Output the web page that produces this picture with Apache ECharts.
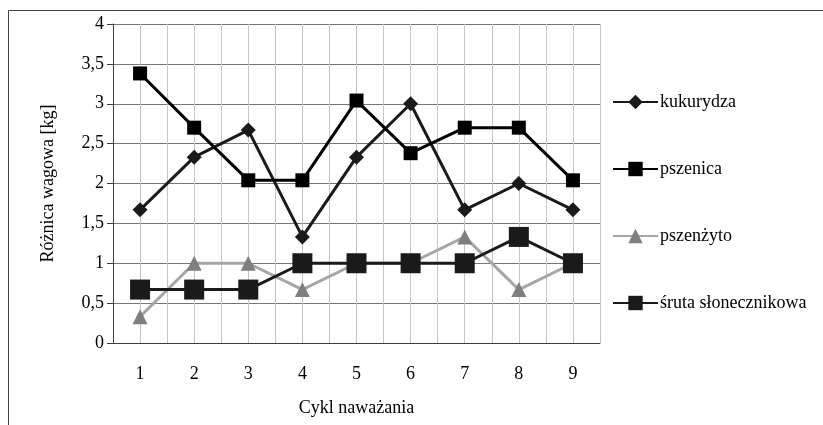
<!DOCTYPE html>
<html>
<head>
<meta charset="utf-8">
<script src="https://cdn.jsdelivr.net/npm/echarts@6/dist/echarts.min.js"></script>
<style>
html, body { margin: 0; padding: 0; background: #fff; }
#chart { width: 823px; height: 425px; }
</style>
</head>
<body>
<div id="chart"></div>
<script>
var cycles = ['1', '2', '3', '4', '5', '6', '7', '8', '9'];
var kukurydza = [1.67, 2.33, 2.67, 1.33, 2.33, 3.0, 1.67, 2.0, 1.67];
var pszenica = [3.38, 2.7, 2.04, 2.04, 3.04, 2.38, 2.7, 2.7, 2.04];
var pszenzyto = [0.33, 1.0, 1.0, 0.67, 1.0, 1.0, 1.33, 0.67, 1.0];
var sruta = [0.67, 0.67, 0.67, 1.0, 1.0, 1.0, 1.0, 1.33, 1.0];

var serif = 'Liberation Serif';
var chart = echarts.init(document.getElementById('chart'));

var option = {
    animation: false,
    graphic: [
        {
            type: 'rect',
            shape: { x: 8.5, y: 10.5, width: 900, height: 500 },
            style: { fill: 'none', stroke: '#404040', lineWidth: 1 },
            silent: true
        }
    ],
    grid: { left: 113, top: 24, right: 223, bottom: 82 },
    legend: {
        orient: 'vertical',
        left: 612,
        top: 93,
        padding: 0,
        itemWidth: 45,
        itemHeight: 18,
        itemGap: 49,
        textStyle: { fontFamily: serif, fontSize: 18, color: '#000', padding: [0, 0, 0, -3] },
        data: ['kukurydza', 'pszenica', 'pszenżyto', 'śruta słonecznikowa']
    },
    xAxis: [
        {
            type: 'category',
            data: cycles,
            boundaryGap: true,
            name: 'Cykl naważania',
            nameLocation: 'middle',
            nameGap: 56,
            nameTextStyle: { fontFamily: serif, fontSize: 18, color: '#000' },
            axisLine: { lineStyle: { color: '#404040', width: 1 } },
            axisTick: { show: false },
            axisLabel: { fontFamily: serif, fontSize: 18, color: '#000', margin: 22 },
            splitLine: { show: false }
        },
        {
            // hidden axis only for the half-category vertical grid
            type: 'value',
            min: 0.5,
            max: 9.5,
            interval: 0.5,
            position: 'bottom',
            show: true,
            axisLine: { show: false },
            axisTick: { show: false },
            axisLabel: { show: false },
            splitLine: { show: true, lineStyle: { color: '#c4c4c4', width: 1 } }
        }
    ],
    yAxis: {
        type: 'value',
        min: 0,
        max: 4,
        interval: 0.5,
        name: 'Różnica wagowa [kg]',
        nameLocation: 'middle',
        nameGap: 56,
        nameTextStyle: { fontFamily: serif, fontSize: 18, color: '#000' },
        axisLine: { show: true, lineStyle: { color: '#404040', width: 1 } },
        axisTick: { show: true, length: 6, lineStyle: { color: '#404040' } },
        axisLabel: {
            fontFamily: serif,
            fontSize: 18,
            color: '#000',
            margin: 9,
            formatter: function (v) { return String(v).replace('.', ','); }
        },
        splitLine: { show: true, lineStyle: { color: '#777', width: 1 } }
    },
    series: [
        {
            name: 'kukurydza',
            type: 'line',
            data: kukurydza,
            symbol: 'diamond',
            symbolSize: 15,
            lineStyle: { color: '#1a1a1a', width: 3 },
            itemStyle: { color: '#1a1a1a' }
        },
        {
            name: 'pszenica',
            type: 'line',
            data: pszenica,
            symbol: 'rect',
            symbolSize: 14,
            lineStyle: { color: '#000', width: 3 },
            itemStyle: { color: '#000' }
        },
        {
            name: 'pszenżyto',
            type: 'line',
            data: pszenzyto,
            symbol: 'triangle',
            symbolSize: 15,
            lineStyle: { color: '#a6a6a6', width: 3 },
            itemStyle: { color: '#7f7f7f' }
        },
        {
            name: 'śruta słonecznikowa',
            type: 'line',
            data: sruta,
            symbol: 'rect',
            symbolSize: 20,
            lineStyle: { color: '#1a1a1a', width: 3 },
            itemStyle: { color: '#1a1a1a' }
        }
    ]
};

chart.setOption(option);
</script>
</body>
</html>
